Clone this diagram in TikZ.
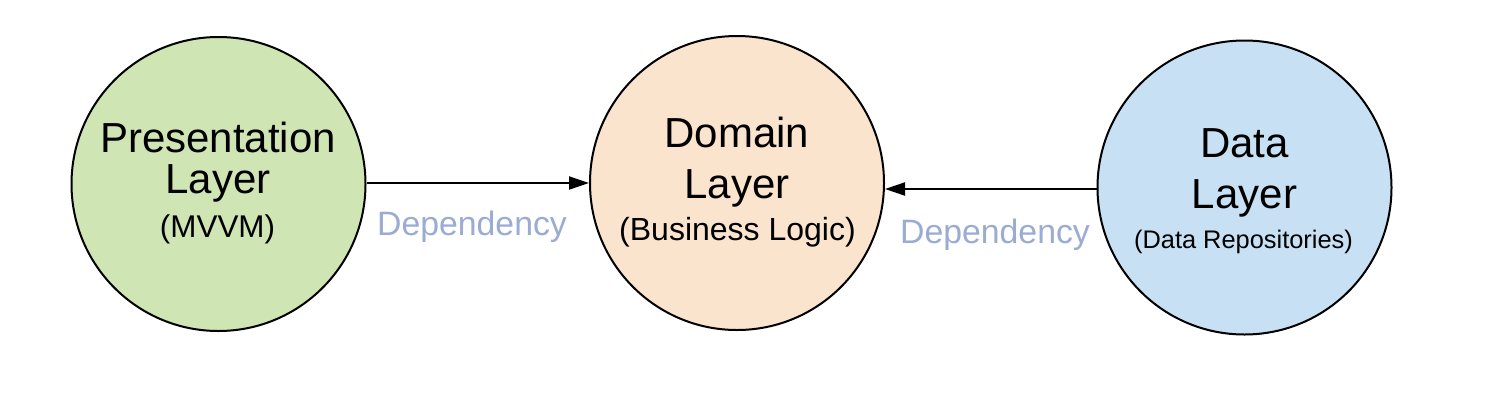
\documentclass[tikz,border=0pt]{standalone}
\usepackage{fontspec}
\setmainfont{Liberation Sans}
\usetikzlibrary{arrows.meta}
\definecolor{greenfill}{RGB}{208,229,180}
\definecolor{peachfill}{RGB}{250,228,206}
\definecolor{bluefill}{RGB}{200,224,244}
\definecolor{deptext}{RGB}{154,172,210}
\tikzset{
  layer/.style={circle, draw=black, line width=2pt, minimum size=294pt, inner sep=0pt},
  bigtxt/.style={anchor=base, inner sep=0pt, font=\fontsize{42}{48}\selectfont},
  subtxt/.style={anchor=base, inner sep=0pt},
  deplabel/.style={anchor=base, inner sep=0pt, text=deptext, font=\fontsize{33.8}{40}\selectfont},
  deparrow/.style={line width=2pt, -{Triangle[length=20pt, width=13pt]}}
}
\begin{document}
\begin{tikzpicture}[x=1pt, y=-1pt]
\useasboundingbox (0,0) rectangle (1508,400);
\node[layer, fill=greenfill] (pres) at (218.5,184) {};
\node[layer, fill=peachfill] (dom) at (737,183) {};
\node[layer, fill=bluefill] (data) at (1244.5,187.5) {};

\node[bigtxt] (presA) at (218,152) {Presentation};
\node[bigtxt] (presB) at (218,193) {Layer};
\node[subtxt, font=\fontsize{31.4}{36}\selectfont] (presC) at (217.5,237) {(MVVM)};

\node[bigtxt] (domA) at (737,147) {Domain};
\node[bigtxt] (domB) at (737,198) {Layer};
\node[subtxt, font=\fontsize{32}{36}\selectfont] (domC) at (737.5,240) {(Business Logic)};

\node[bigtxt] (dataA) at (1244.5,157) {Data};
\node[bigtxt] (dataB) at (1244.5,208) {Layer};
\node[subtxt, font=\fontsize{25.4}{30}\selectfont] (dataC) at (1243.5,248) {(Data Repositories)};

\coordinate (a1s) at (pres.east |- 0,183);
\coordinate (a1e) at (dom.west |- 0,183);
\draw[deparrow] (pres.east |- a1s) -- (a1e);
\coordinate (a2s) at (data.west |- 0,189);
\coordinate (a2e) at (dom.east |- 0,189);
\draw[deparrow] (a2s) -- (a2e);

\node[deplabel] (dep1) at (472,235) {Dependency};
\node[deplabel] (dep2) at (995,243) {Dependency};
\end{tikzpicture}
\end{document}
